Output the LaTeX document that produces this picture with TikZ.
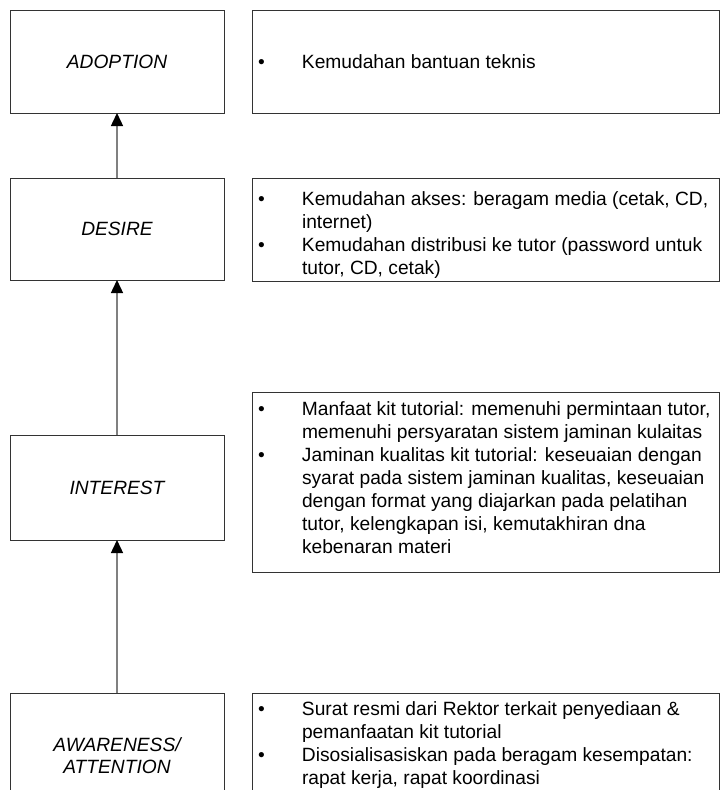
\documentclass[tikz,border=0pt]{standalone}
\usepackage{fontspec}
\setmainfont{Liberation Sans}
\usetikzlibrary{arrows.meta}
\begin{document}
\begin{tikzpicture}[x=0.75pt,y=-0.75pt,
  every node/.style={inner sep=0pt, outer sep=0pt},
  txt/.style={font=\fontsize{14.4}{17.25}\selectfont},
  stage/.style={draw=black!80, line width=0.75pt, minimum width=160.5pt, font=\fontsize{14.4}{16.5}\selectfont\itshape, align=center},
  panel/.style={draw=black!80, line width=0.75pt, minimum width=350.25pt},
  arr/.style={draw=black!50, line width=1.1pt, -{Triangle[length=9.75pt,width=9pt,color=black]}}]
\useasboundingbox (0,0) rectangle (720,790);
\clip (0,0) rectangle (720,790);
% left stage boxes
\node[stage, minimum height=77.25pt] (A) at (117,61.5) {ADOPTION};
\node[stage, minimum height=76.5pt] (D) at (117,229) {DESIRE};
\node[stage, minimum height=78.75pt] (I) at (117,487.5) {INTEREST};
\node[stage, minimum height=94.5pt] (W) at (117,756) {AWARENESS/\\ATTENTION};
% right panels
\node[panel, minimum height=77.25pt] (rA) at (485.5,61.5) {};
\node[panel, minimum height=77.25pt] (rD) at (485.5,229.5) {};
\node[panel, minimum height=135pt] (rI) at (485.5,482) {};
\node[panel, minimum height=84pt] (rW) at (485.5,749) {};
% panel texts
\node[txt, anchor=base west] (tA) at (258,68) {\begin{tabular}[t]{@{}p{33pt}@{}l@{}}\textbullet & Kemudahan bantuan teknis\end{tabular}};
\node[txt, anchor=base west] (tD) at (258,205) {\begin{tabular}[t]{@{}p{33pt}@{}l@{}}
\textbullet & Kemudahan akses: beragam media (cetak, CD,\\
 & internet)\\
\textbullet & Kemudahan distribusi ke tutor (password untuk\\
 & tutor, CD, cetak)\end{tabular}};
\node[txt, anchor=base west] (tI) at (258,415) {\begin{tabular}[t]{@{}p{33pt}@{}l@{}}
\textbullet & Manfaat kit tutorial: memenuhi permintaan tutor,\\
 & memenuhi persyaratan sistem jaminan kulaitas\\
\textbullet & Jaminan kualitas kit tutorial: keseuaian dengan\\
 & syarat pada sistem jaminan kualitas, keseuaian\\
 & dengan format yang diajarkan pada pelatihan\\
 & tutor, kelengkapan isi, kemutakhiran dna\\
 & kebenaran materi\end{tabular}};
\node[txt, anchor=base west] (tW) at (258,715) {\begin{tabular}[t]{@{}p{33pt}@{}l@{}}
\textbullet & Surat resmi dari Rektor terkait penyediaan \&\\
 & pemanfaatan kit tutorial\\
\textbullet & Disosialisasiskan pada beragam kesempatan:\\
 & rapat kerja, rapat koordinasi\end{tabular}};
% arrows
\draw[arr] (D.north) -- (A.south);
\draw[arr] (I.north) -- (D.south);
\draw[arr] (W.north) -- (I.south);
\end{tikzpicture}
\end{document}
